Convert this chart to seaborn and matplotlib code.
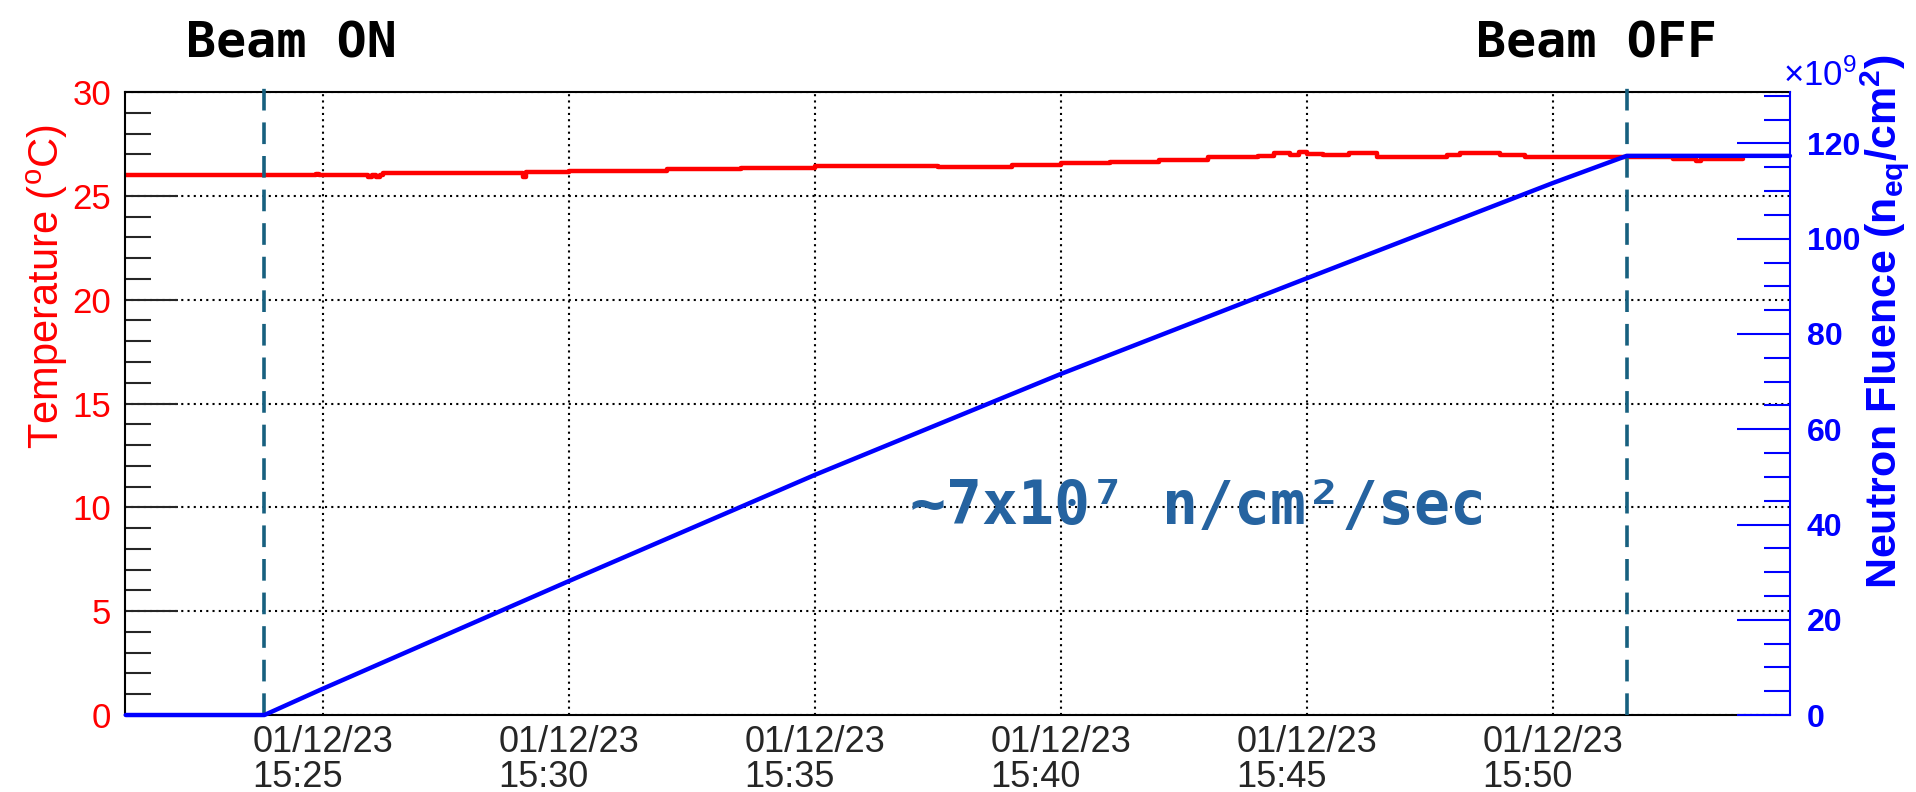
import matplotlib
matplotlib.use("Agg")
import pandas as pd
import matplotlib.pyplot as plt
import matplotlib.dates as mdates
from matplotlib.ticker import MultipleLocator
import seaborn as sns

DAY = "2023-01-12 "

# Temperature readings (deg C)
temp_times = ["15:21:00", "15:24:52", "15:24:56", "15:25:55", "15:26:00", "15:26:05",
              "15:26:10", "15:26:14", "15:29:04", "15:29:08", "15:30:00", "15:32:00",
              "15:33:30", "15:35:00", "15:36:00", "15:37:30", "15:39:00", "15:40:00",
              "15:41:00", "15:42:00", "15:43:00", "15:44:00", "15:44:20", "15:44:40",
              "15:44:50", "15:45:00", "15:45:20", "15:45:52", "15:46:25", "15:47:51",
              "15:48:07", "15:48:55", "15:49:26", "15:52:26", "15:52:54", "15:53:00",
              "15:53:52"]
temp_values = [26.00, 26.05, 26.00, 25.90, 26.02, 25.92,
               26.00, 26.08, 25.92, 26.15, 26.20, 26.28,
               26.35, 26.42, 26.45, 26.40, 26.48, 26.58,
               26.65, 26.72, 26.85, 26.92, 27.05, 26.95,
               27.10, 27.00, 26.97, 27.06, 26.87, 26.96,
               27.06, 26.96, 26.87, 26.77, 26.68, 26.77,
               26.77]

# Neutron fluence readings (x1e9 n_eq/cm^2)
flu_times = ["15:21:00", "15:23:49", "15:25:00", "15:30:00", "15:35:00",
             "15:40:00", "15:45:00", "15:50:00", "15:51:30", "15:54:49"]
flu_values = [0.0, 0.0, 5.5, 28.1, 50.4, 71.6, 91.7, 111.7, 117.4, 117.4]

beam_times = ["15:23:49", "15:51:30"]
beam_labels = ["Beam ON", "Beam OFF"]
rate_text = "~7x10⁷ n/cm²/sec"

x_range = ["15:20:59", "15:54:49"]
temp_range = [0, 30]
flu_range = [0, 130.8]

sns.set_style("white")
plt.rcParams['font.family'] = ['Liberation Sans', 'DejaVu Sans']
plt.rcParams['mathtext.default'] = 'regular'

temp = pd.DataFrame({'time': pd.to_datetime([DAY + t for t in temp_times]),
                     'temp': temp_values})
flu = pd.DataFrame({'time': pd.to_datetime([DAY + t for t in flu_times]),
                    'fluence': flu_values})

fig = plt.figure(figsize=(19.16, 7.92), dpi=100)
ax = fig.add_axes([0.0652, 0.0972, 0.8690, 0.7866])
ax2 = ax.twinx()

sns.lineplot(data=temp, x='time', y='temp', ax=ax, color='red', lw=3.2,
             drawstyle='steps-post', estimator=None)
sns.lineplot(data=flu, x='time', y='fluence', ax=ax2, color='blue', lw=3.2,
             estimator=None, clip_on=False, zorder=3)

for t in beam_times:
    ax2.axvline(pd.Timestamp(DAY + t), color='#17607f', lw=2.6, dashes=(6, 3.3),
                ymax=1.016, clip_on=False, zorder=1)

ax.set_xlim(pd.Timestamp(DAY + x_range[0]), pd.Timestamp(DAY + x_range[1]))
ax.set_ylim(*temp_range)
ax2.set_ylim(*flu_range)

# x axis: dates
ax.xaxis.set_major_locator(mdates.MinuteLocator(byminute=range(0, 60, 5)))
ax.xaxis.set_minor_locator(mdates.MinuteLocator())
ax.xaxis.set_major_formatter(mdates.DateFormatter('%m/%d/%y\n%H:%M'))
ax.yaxis.set_major_locator(MultipleLocator(5))
ax.yaxis.set_minor_locator(MultipleLocator(1))
ax2.yaxis.set_major_locator(MultipleLocator(20))
ax2.yaxis.set_minor_locator(MultipleLocator(5))

ax.grid(True, which='major', axis='both', color='black', linestyle=(0, (1, 2)), linewidth=1.5)

ax.tick_params(axis='x', which='major', direction='in', length=14, width=1.5,
               labelsize=26, pad=7, color='black')
ax.tick_params(axis='x', which='minor', direction='in', length=7, width=1.5)
ax.tick_params(axis='y', which='major', direction='in', length=38, width=1.5,
               labelsize=25, labelcolor='red', pad=10)
ax.tick_params(axis='y', which='minor', direction='in', length=19, width=1.5)
ax2.tick_params(axis='y', which='major', direction='in', length=38, width=1.5,
                color='blue', labelcolor='blue', labelsize=23, pad=12)
ax2.tick_params(axis='y', which='minor', direction='in', length=19, width=1.5, color='blue')

for side in ['left', 'top', 'bottom']:
    ax.spines[side].set_color('black')
    ax.spines[side].set_linewidth(1.5)
    ax2.spines[side].set_visible(False)
ax.spines['right'].set_visible(False)
ax2.spines['right'].set_color('blue')
ax2.spines['right'].set_linewidth(1.5)

ax.set_xlabel('')
ax.set_ylabel('Temperature ($^{o}$C)', color='red', fontsize=30)
ax.yaxis.label.set_ha('right')
ax.yaxis.set_label_coords(-0.033, 0.949)
ax2.set_ylabel('Neutron Fluence (n$_{eq}$/cm$^{2}$)', color='blue', fontsize=31,
               fontweight='bold')
ax2.yaxis.label.set_ha('right')
ax2.yaxis.set_label_coords(1.041, 1.062)

fig.text(1783 / 1916, 1 - 76 / 792, r'$\times$10$^{9}$', color='blue', fontsize=25,
         ha='left', va='center')

# handwritten-style notes
mono = ['DejaVu Sans Mono', 'DejaVu Sans']
fig.text(291 / 1916, 1 - 43 / 792, beam_labels[0], family=mono, fontweight='bold',
         fontsize=36, ha='center', va='center', color='black')
fig.text(1596 / 1916, 1 - 43 / 792, beam_labels[1], family=mono, fontweight='bold',
         fontsize=36, ha='center', va='center', color='black')
fig.text(910 / 1916, 1 - 507 / 792, rate_text, family=mono, fontweight='bold',
         fontsize=43, ha='left', va='center', color='#2563a0')

fig.canvas.draw()
for lbl in ax.get_xticklabels():
    lbl.set_multialignment('left')
    lbl.set_linespacing(1.0)
for lbl in ax2.get_yticklabels():
    lbl.set_fontweight('bold')

fig.savefig('out.png', dpi=100)
